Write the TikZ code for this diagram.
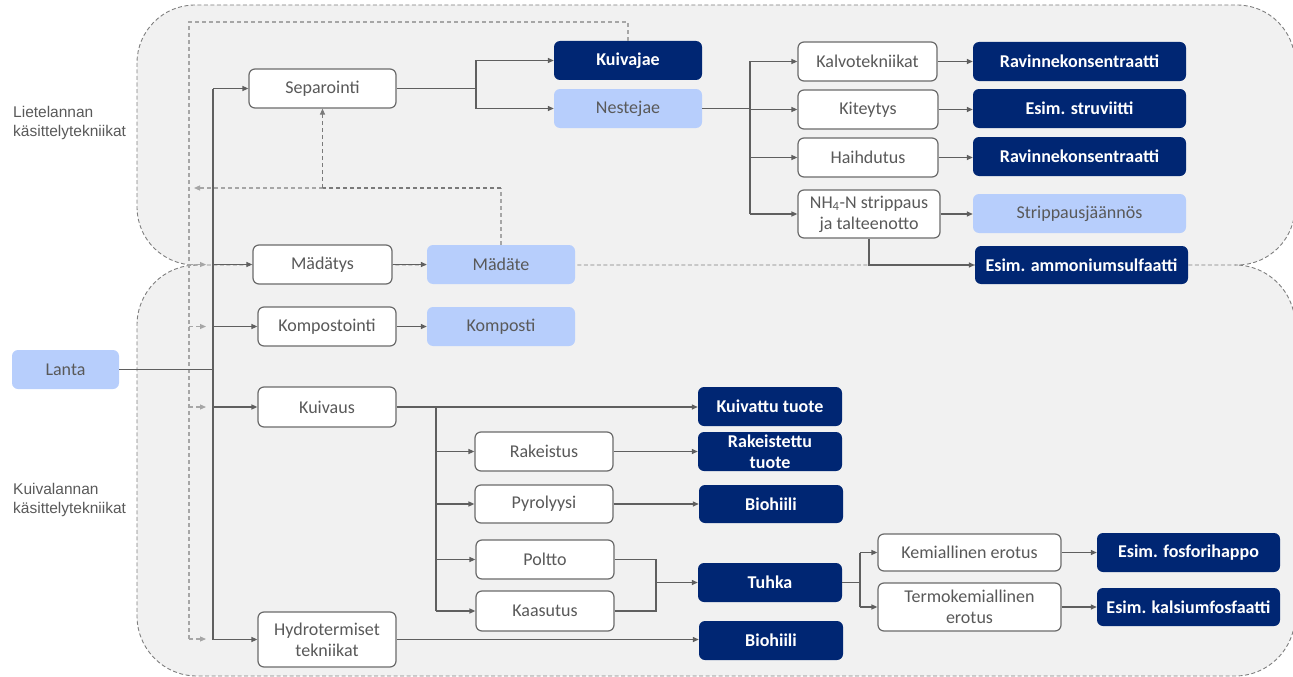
\documentclass[tikz,border=0pt]{standalone}
\usepackage{fontspec}
\setmainfont{Carlito}
\newfontfamily\arialf{Liberation Sans}
\usetikzlibrary{arrows.meta,calc}
\definecolor{regfill}{HTML}{F1F1F1}
\definecolor{regline}{HTML}{7F7F7F}
\definecolor{navy}{HTML}{002673}
\definecolor{lightb}{HTML}{B7CEFC}
\definecolor{txt}{HTML}{595959}
\definecolor{boxline}{HTML}{6B6B6B}
\definecolor{lineg}{HTML}{5F5F5F}
\definecolor{dashg}{HTML}{A6A6A6}
\definecolor{dashd}{HTML}{7A7A7A}
\tikzset{
  sz/.style 2 args={minimum width=#1, minimum height=#2},
  proc/.style={draw=boxline, fill=white, rounded corners=6pt, line width=1.2pt, text=txt,
    font=\fontsize{18}{21}\selectfont, align=center, inner sep=0pt},
  lightbox/.style={fill=lightb, rounded corners=6pt, text=txt,
    font=\fontsize{18}{21}\selectfont, align=center, inner sep=0pt},
  darkbox/.style={fill=navy, rounded corners=6pt, text=white,
    font=\bfseries\fontsize{18}{21}\selectfont, align=center, inner sep=0pt},
  conn/.style={draw=lineg, line width=1.3pt},
  arr/.style={conn, -{Triangle[length=6pt,width=5pt]}},
  gdash/.style={draw=dashg, line width=1.1pt, dash pattern=on 4pt off 3pt},
  ddash/.style={draw=dashd, line width=1.1pt, dash pattern=on 4pt off 3pt},
  garr/.style={gdash, -{Triangle[length=6pt,width=5pt]}},
  region/.style={draw=regline, line width=0.9pt, dash pattern=on 4pt off 2.5pt},
  sidelabel/.style={anchor=west, align=left, text=txt, font=\arialf\fontsize{15.5}{19}\selectfont, inner sep=0pt},
}
\begin{document}
\begin{tikzpicture}[x=1pt,y=-1pt]
\useasboundingbox (0,0) rectangle (1293,677);
% regions
\fill[regfill, rounded corners=58pt] (137,5) rectangle (1295,265);
\fill[regfill, rounded corners=60pt] (137,265) rectangle (1295,676);
\draw[region, rounded corners=58pt] (137,5) rectangle (1295,265);
\draw[region, rounded corners=60pt] (197,265) -| (137,676) -| (1295,265) -- (1235,265);

% side labels
\node[sidelabel] (lab1) at (13,123) {Lietelannan\\käsittelytekniikat};
\node[sidelabel] (lab2) at (13,500) {Kuivalannan\\käsittelytekniikat};

% nodes
\node[proc, sz={147pt}{39pt}] (sep) at (322.5,88.5) {Separointi};
\node[darkbox, sz={148pt}{39pt}] (kuivajae) at (628,60.5) {Kuivajae};
\node[lightbox, sz={148pt}{39pt}] (neste) at (628,108.5) {Nestejae};
\node[proc, sz={139pt}{39pt}] (kalvo) at (867.5,61.5) {Kalvotekniikat};
\node[proc, sz={140pt}{39pt}] (kitey) at (868,109.5) {Kiteytys};
\node[proc, sz={140pt}{39pt}] (haih) at (868,157.5) {Haihdutus};
\node[proc, sz={142pt}{48pt}] (nh4) at (869,214) {NH\textsubscript{4}-N strippaus\\ja talteenotto};
\node[darkbox, sz={213pt}{39pt}] (rav1) at (1079.5,61.5) {Ravinnekonsentraatti};
\node[darkbox, sz={213pt}{39pt}] (stru) at (1079.5,108.5) {Esim. struviitti};
\node[darkbox, sz={213pt}{39pt}] (rav2) at (1079.5,156.5) {Ravinnekonsentraatti};
\node[lightbox, sz={213pt}{39pt}] (strip) at (1079.5,213.5) {Strippausjäännös};
\node[darkbox, sz={213pt}{38pt}] (amm) at (1081.5,265) {Esim. ammoniumsulfaatti};
\node[proc, sz={139pt}{39pt}] (mada) at (322.5,264.5) {Mädätys};
\node[lightbox, sz={148pt}{39pt}] (madate) at (501,264.5) {Mädäte};
\node[proc, sz={138pt}{39pt}] (komp) at (327,326.5) {Kompostointi};
\node[lightbox, sz={148pt}{39pt}] (kompo) at (501,326.5) {Komposti};
\node[lightbox, sz={107pt}{39pt}] (lanta) at (65.5,369.5) {Lanta};
\node[proc, sz={138pt}{40pt}] (kuiv) at (327,407) {Kuivaus};
\node[darkbox, sz={144pt}{39pt}] (kt) at (770,406.5) {Kuivattu tuote};
\node[proc, sz={138pt}{39pt}] (rake) at (544,451.5) {Rakeistus};
\node[darkbox, sz={144pt}{39pt}, font=\bfseries\fontsize{18}{20.5}\selectfont] (raket) at (770,451.5) {Rakeistettu\\tuote};
\node[proc, sz={138pt}{38pt}] (pyro) at (544,504) {Pyrolyysi};
\node[darkbox, sz={144pt}{38pt}] (bio1) at (771,504) {Biohiili};
\node[proc, sz={138pt}{39pt}] (polt) at (545,559.5) {Poltto};
\node[proc, sz={138pt}{40pt}] (kaas) at (545,611) {Kaasutus};
\node[darkbox, sz={144pt}{39pt}] (tuhka) at (770,582.5) {Tuhka};
\node[proc, sz={138pt}{55pt}] (hydro) at (327,639.5) {Hydrotermiset\\tekniikat};
\node[darkbox, sz={144pt}{39pt}] (bio2) at (771,640.5) {Biohiili};
\node[proc, sz={183pt}{37pt}] (kem) at (969.5,552.5) {Kemiallinen erotus};
\node[proc, sz={183pt}{48pt}] (termo) at (969.5,607) {Termokemiallinen\\erotus};
\node[darkbox, sz={183pt}{39pt}] (fosf) at (1188.5,552.5) {Esim. fosforihappo};
\node[darkbox, sz={183pt}{38pt}] (kals) at (1188.5,607) {Esim. kalsiumfosfaatti};

% dashed feedback lines
\coordinate (dcorner) at (189,22);
\coordinate (dbot) at (189,639);
\draw[gdash] (kuivajae.north) |- (dcorner) -- (dbot);
\draw[garr] (dbot |- mada) -- ++(17,0);
\draw[garr] (dbot |- komp) -- ++(17,0);
\draw[garr] (dbot |- kuiv) -- ++(17,0);
\draw[garr] (dbot) -- ++(17,0);
\coordinate (m1) at (501,188);
\coordinate (m2) at (322.5,188);
\coordinate (m3) at (194,188);
\draw[gdash] (madate.north) -- (m1);
\draw[ddash] (m1) -- (m2);
\draw[garr] (m2) -- (m3);
\draw[ddash, -{Triangle[length=6pt,width=5pt]}] (m2) -- (sep.south);

% main spine
\coordinate (spine) at (213,369.5);
\draw[conn] (lanta.east) -- (spine);
\draw[conn] (spine |- sep) -- (spine |- hydro);
\draw[arr] (spine |- sep) -- (sep.west);
\draw[arr] (spine |- mada) -- (mada.west);
\draw[arr] (spine |- komp) -- (komp.west);
\draw[arr] (spine |- kuiv) -- (kuiv.west);
\draw[arr] (spine |- hydro) -- (hydro.west);

% separation branch
\coordinate (j1) at (476,88.5);
\draw[conn] (sep.east) -- (j1);
\draw[conn] (j1 |- kuivajae) -- (j1 |- neste);
\draw[arr] (j1 |- kuivajae) -- (kuivajae.west);
\draw[arr] (j1 |- neste) -- (neste.west);
\coordinate (j2) at (750,108.5);
\draw[conn] (neste.east) -- (j2);
\draw[conn] (j2 |- kalvo) -- (j2 |- nh4);
\draw[arr] (j2 |- kalvo) -- (kalvo.west);
\draw[arr] (j2 |- kitey) -- (kitey.west);
\draw[arr] (j2 |- haih) -- (haih.west);
\draw[arr] (j2 |- nh4) -- (nh4.west);
\draw[arr] (kalvo.east) -- (kalvo.east -| rav1.west);
\draw[arr] (kitey.east) -- (kitey.east -| stru.west);
\draw[arr] (haih.east) -- (haih.east -| rav2.west);
\draw[arr] (nh4.east) -- (nh4.east -| strip.west);
\draw[arr] (nh4.south) |- (amm.west);

% digestion, composting
\draw[arr] (mada.east) -- (mada.east -| madate.west);
\draw[arr] (komp.east) -- (komp.east -| kompo.west);

% drying branch
\draw[arr] (kuiv.east) -- (kuiv.east -| kt.west);
\coordinate (j3) at (436,407);
\draw[conn] (j3) -- (j3 |- kaas);
\draw[arr] (j3 |- rake) -- (rake.west);
\draw[arr] (j3 |- pyro) -- (pyro.west);
\draw[arr] (j3 |- polt) -- (polt.west);
\draw[arr] (j3 |- kaas) -- (kaas.west);
\draw[arr] (rake.east) -- (rake.east -| raket.west);
\draw[arr] (pyro.east) -- (pyro.east -| bio1.west);
\coordinate (j4) at (656,582.5);
\draw[conn] (polt.east) -| (j4);
\draw[conn] (kaas.east) -| (j4);
\draw[arr] (j4) -- (tuhka.west);
\coordinate (j5) at (860,582.5);
\draw[conn] (tuhka.east) -- (j5);
\draw[conn] (j5 |- kem) -- (j5 |- termo);
\draw[arr] (j5 |- kem) -- (kem.west);
\draw[arr] (j5 |- termo) -- (termo.west);
\draw[arr] (kem.east) -- (kem.east -| fosf.west);
\draw[arr] (termo.east) -- (termo.east -| kals.west);
\draw[arr] (hydro.east) -- (hydro.east -| bio2.west);
\end{tikzpicture}
\end{document}
